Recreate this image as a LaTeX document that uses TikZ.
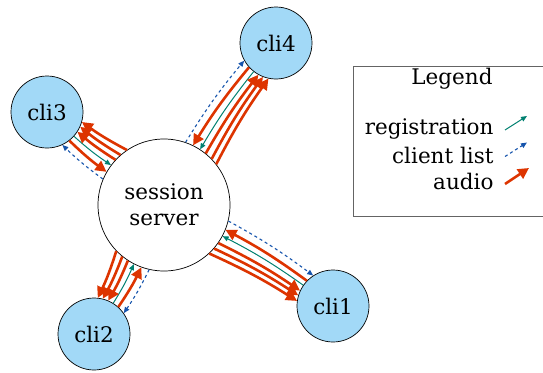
\documentclass[tikz,border=0pt]{standalone}
\usepackage{fontspec}
\setmainfont{DejaVu Serif}
\usetikzlibrary{arrows.meta}
\definecolor{cliblue}{RGB}{162,217,247}
\definecolor{audiored}{RGB}{221,52,0}
\definecolor{regteal}{RGB}{0,128,112}
\definecolor{listblue}{RGB}{22,84,172}
\definecolor{boxgray}{RGB}{100,100,100}
\begin{document}
\begin{tikzpicture}[x=1pt,y=-1pt,
  txt/.style={font=\fontsize{21.5}{26}\selectfont},
  client/.style={circle,draw=black,fill=cliblue,minimum size=72pt,inner sep=0pt,line width=0.7pt,txt},
  server/.style={circle,draw=black,fill=white,minimum size=132pt,inner sep=0pt,line width=0.7pt,align=center,txt},
  audio/.style={draw=audiored,line width=2.6pt},
  reg/.style={draw=regteal,line width=1pt},
  clist/.style={draw=listblue,line width=1.1pt,dash pattern=on 3pt off 3pt},
  bigtip/.style={-{Triangle[length=11pt,width=11pt]}},
  bigtipr/.style={{Triangle[length=11pt,width=11pt]}-},
  smalltip/.style={-{Triangle[length=6pt,width=5pt]}},
  smalltipr/.style={{Triangle[length=6pt,width=5pt]}-},
  bnd/.style={bend left=4}
]
\useasboundingbox (0,0) rectangle (543,372);

\node[server] (srv) at (164,205) {session\\server};
\node[client] (cli4) at (276,43) {cli4};
\node[client] (cli3) at (47,112) {cli3};
\node[client] (cli2) at (94,334) {cli2};
\node[client] (cli1) at (333,306) {cli1};

\foreach \c/\t in {cli4/55.34, cli3/141.52, cli2/241.52, cli1/-30.86} {
  \draw[clist,smalltip] (srv.{\t+16.3}) to[bnd] (\c.{\t+180-25.9});
  \draw[audio,bigtipr] (srv.{\t+8.7}) to[bnd] (\c.{\t+180-12.8});
  \draw[reg,smalltipr] (srv.{\t+2.2}) to[bnd] (\c.{\t+180-3.2});
  \draw[audio,bigtip] (srv.{\t-4.3}) to[bnd] (\c.{\t+180+6.4});
  \draw[audio,bigtip] (srv.{\t-10.5}) to[bnd] (\c.{\t+180+14.5});
  \draw[audio,bigtip] (srv.{\t-16.7}) to[bnd] (\c.{\t+180+22.9});
}

% legend
\draw[boxgray,line width=0.8pt] (353.5,66) rectangle (560,216.5);
\node[txt] (lt) at (452,79) {Legend};
\node[txt,anchor=east] (lreg) at (497,129) {registration};
\node[txt,anchor=east] (llist) at (497,155) {client list};
\node[txt,anchor=east] (laud) at (497,181) {audio};
\coordinate (ra) at (505,130);
\coordinate (rb) at (527,116);
\coordinate (la) at (505,156.5);
\coordinate (lb) at (527,142.5);
\coordinate (aa) at (505,184);
\coordinate (ab) at (529,168);
\draw[reg,smalltip] (ra) -- (rb);
\draw[clist,smalltip] (la) -- (lb);
\draw[audio,bigtip] (aa) -- (ab);
\end{tikzpicture}
\end{document}
